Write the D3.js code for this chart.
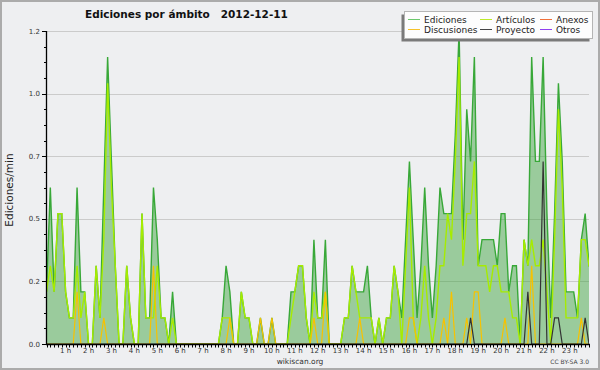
<!DOCTYPE html>
<html>
<head>
<meta charset="utf-8">
<script src="https://cdn.jsdelivr.net/npm/d3@7/dist/d3.min.js"></script>
<style>
body { margin: 0; background: #fff; }
svg { display: block; font-family: "DejaVu Sans", sans-serif; }
</style>
</head>
<body>
<svg id="chart" width="600" height="370"></svg>
<script>
// edits per minute, one value per 10 min bin (00:10 ... 24:00), 12 values per row = 2 hours
var ediciones = [
  0.2,0.6,0.2,0.5,0.5,0.2,0.1,0.1,0.6,0.2,0.2,0,
  0,0.3,0.1,0.6,1.1,0.7,0.3,0,0,0.3,0.1,0,
  0,0.5,0.1,0.1,0.6,0.4,0.1,0.1,0,0.2,0,0,
  0,0,0,0,0,0,0,0,0,0,0.1,0.3,
  0.2,0,0,0.2,0.1,0.1,0,0,0.1,0,0,0.1,
  0,0,0,0,0.2,0.2,0.3,0.3,0.1,0,0.4,0.1,
  0.1,0.4,0,0,0,0,0.1,0.1,0.3,0.2,0.2,0.2,
  0.3,0.1,0,0.1,0,0.1,0.1,0.3,0.2,0.1,0.4,0.7,
  0.4,0.1,0.3,0.6,0.3,0.1,0.3,0.6,0.5,0.5,0.5,0.8,
  1.2,0.4,0.9,0.7,1.1,0.3,0.4,0.4,0.4,0.4,0.3,0.5,
  0.5,0.2,0.3,0.3,0,0.4,0.3,1.1,0.7,0.7,1.1,0.5,
  0.1,0.5,1.0,0.7,0.2,0.2,0.2,0.1,0.4,0.5,0.3,0.3
];
var articulos = [
  0.2,0.3,0.2,0.5,0.5,0.2,0.1,0.1,0.3,0.1,0.2,0,
  0,0.3,0.1,0.4,1.0,0.6,0.3,0,0,0.3,0.1,0,
  0,0.5,0.1,0.1,0.1,0.3,0.1,0.1,0,0.1,0,0,
  0,0,0,0,0,0,0,0,0,0,0.1,0.1,
  0.1,0,0,0.2,0.1,0.1,0,0,0,0,0,0,
  0,0,0,0,0.1,0.2,0.3,0.3,0.1,0,0.2,0.1,
  0.1,0.2,0,0,0,0,0.1,0.1,0.3,0.2,0.1,0.1,
  0.1,0.1,0,0.1,0,0.1,0.1,0.3,0.2,0,0.3,0.6,
  0.1,0,0.1,0.3,0.1,0,0.1,0.3,0.3,0.5,0.4,0.7,
  1.1,0.3,0.5,0.5,0.7,0.3,0.3,0.3,0.2,0.3,0.3,0.2,
  0.2,0.2,0.1,0.1,0,0.4,0.3,0.4,0.3,0.3,0.4,0.2,
  0,0.4,0.9,0.6,0.1,0.1,0.1,0.1,0.4,0.4,0.3,0.3
];
var discusiones = [
  0,0,0,0,0,0,0,0,0.2,0,0,0,
  0,0,0,0.1,0,0,0,0,0,0,0,0,
  0,0,0,0,0.3,0,0,0,0,0,0,0,
  0,0,0,0,0,0,0,0,0,0,0,0,
  0.1,0,0,0,0,0,0,0,0.1,0,0,0.1,
  0,0,0,0,0,0,0,0,0,0,0.1,0,
  0,0.2,0,0,0,0,0,0,0,0,0.1,0,
  0,0,0,0,0,0,0,0,0,0,0,0.1,
  0.1,0,0,0,0,0,0,0,0.1,0,0.2,0,
  0,0,0.1,0,0.2,0.2,0,0,0,0,0,0,
  0.1,0,0,0,0,0,0,0.3,0,0,0,0,
  0,0,0,0,0,0,0,0,0.1,0,0,0
];
var proyecto = [
  0,0,0,0,0,0,0,0,0,0,0,0,
  0,0,0,0,0,0,0,0,0,0,0,0,
  0,0,0,0,0,0,0,0,0,0,0,0,
  0,0,0,0,0,0,0,0,0,0,0,0,
  0,0,0,0,0,0,0,0,0,0,0,0,
  0,0,0,0,0,0,0,0,0,0,0,0,
  0,0,0,0,0,0,0,0,0,0,0,0,
  0,0,0,0,0,0,0,0,0,0,0,0,
  0,0,0,0,0,0,0,0,0,0,0,0,
  0,0,0,0.1,0,0,0,0,0,0,0,0,
  0,0,0,0,0,0,0.2,0,0,0,0.7,0,
  0,0.1,0.1,0,0,0,0,0,0,0.1,0,0
];
// nothing in these two this day
var anexos = [];
var otros = [];

var hours = [1,2,3,4,5,6,7,8,9,10,11,12,13,14,15,16,17,18,19,20,21,22,23];
var yTicks = [0, 0.24, 0.48, 0.72, 0.96, 1.2];

var legendNames  = ["Ediciones", "Discusiones", "Artículos", "Proyecto", "Anexos", "Otros"];
var legendColors = ["#6cc86c", "#f6c22a", "#bdea2a", "#444444", "#f0703a", "#9040f0"];

(function() {

    var svg = d3.select("#chart");
    var W = 600, H = 370;
    var pLeft = 47, pRight = 589, pTop = 31, pBottom = 344;

    svg.append("rect")
        .attr("x", 1).attr("y", 1)
        .attr("width", W - 2).attr("height", H - 2)
        .attr("fill", "#eeeff1")
        .attr("stroke", "#ababab")
        .attr("stroke-width", 2);

    // bins: minute at the end of each 10 min slot
    var mins = ediciones.map(function(d, i) { return (i + 1) * 10; });

    var x = d3.scaleLinear().domain([10, 1440]).range([46.5, 592.8]);
    var y = d3.scaleLinear().domain([0, 1.2]).range([pBottom, pTop]);

    svg.append("defs").append("clipPath").attr("id", "plot")
        .append("rect")
        .attr("x", pLeft).attr("y", 20)
        .attr("width", pRight - pLeft).attr("height", pBottom - 20);

    // grid
    svg.append("g").selectAll("line")
        .data(yTicks.slice(1))
        .enter().append("line")
            .attr("x1", pLeft).attr("x2", pRight)
            .attr("y1", function(d) { return Math.round(y(d)) + 0.5; })
            .attr("y2", function(d) { return Math.round(y(d)) + 0.5; })
            .attr("stroke", "#cbcbcb")
            .attr("stroke-width", 1);

    var g = svg.append("g").attr("clip-path", "url(#plot)");

    var area = d3.area()
        .x(function(d, i) { return x(mins[i]); })
        .y0(y(0))
        .y1(function(d) { return y(d); });

    var line = d3.line()
        .x(function(d, i) { return x(mins[i]); })
        .y(function(d) { return y(d); });

    g.append("path")
        .attr("d", area(ediciones))
        .attr("fill", "#3ca43c")
        .attr("fill-opacity", 0.47);

    var series = [
        { data: ediciones,   color: "#38a838", w: 1.4 },
        { data: anexos,      color: "#f0602a", w: 1.2 },
        { data: otros,       color: "#8a2be2", w: 1.2 },
        { data: articulos,   color: "#a6ec00", w: 1.4 },
        { data: discusiones, color: "#f7c200", w: 1.2 },
        { data: proyecto,    color: "#333333", w: 1.2 }
    ];

    series.forEach(function(s) {
        if (!s.data.length) return;
        g.append("path")
            .attr("d", line(s.data))
            .attr("fill", "none")
            .attr("stroke", s.color)
            .attr("stroke-width", s.w);
    });

    // y axis
    var yMinor = d3.range(0, 1.2001, 0.06);
    svg.append("g").selectAll("line")
        .data(yMinor)
        .enter().append("line")
            .attr("x1", function(d, i) { return i % 4 == 0 ? pLeft - 5 : pLeft - 3; })
            .attr("x2", pLeft)
            .attr("y1", function(d) { return Math.round(y(d)) + 0.5; })
            .attr("y2", function(d) { return Math.round(y(d)) + 0.5; })
            .attr("stroke", "#000");

    svg.append("line")
        .attr("x1", pLeft - 0.5).attr("x2", pLeft - 0.5)
        .attr("y1", pTop).attr("y2", pBottom + 1)
        .attr("stroke", "#000").attr("stroke-width", 1.3);

    svg.append("g").selectAll("text")
        .data(yTicks)
        .enter().append("text")
            .attr("x", 40)
            .attr("y", function(d) { return y(d) + 2.5; })
            .attr("text-anchor", "end")
            .attr("font-size", "7px")
            .attr("fill", "#333")
            .text(d3.format(".1f"));

    // x axis
    var xMinor = mins.filter(function(m) { return x(m) <= pRight + 0.5; });
    svg.append("g").selectAll("line")
        .data(xMinor)
        .enter().append("line")
            .attr("x1", function(d) { return Math.round(x(d)) + 0.5; })
            .attr("x2", function(d) { return Math.round(x(d)) + 0.5; })
            .attr("y1", pBottom).attr("y2", pBottom + 3.5)
            .attr("stroke", "#000");

    svg.append("line")
        .attr("x1", pLeft - 1).attr("x2", pRight + 1)
        .attr("y1", pBottom + 0.5).attr("y2", pBottom + 0.5)
        .attr("stroke", "#000").attr("stroke-width", 1.5);

    svg.append("g").selectAll("text")
        .data(hours)
        .enter().append("text")
            .attr("x", function(d) { return x(d * 60); })
            .attr("y", 352.5)
            .attr("text-anchor", "middle")
            .attr("font-size", "7px")
            .attr("fill", "#333")
            .text(function(d) { return d + " h"; });

    // titles
    svg.append("text")
        .attr("x", 85).attr("y", 18)
        .attr("font-size", "10.5px")
        .attr("font-weight", "bold")
        .attr("fill", "#111")
        .attr("xml:space", "preserve")
        .text("Ediciones por ámbito   2012-12-11");

    svg.append("text")
        .attr("transform", "translate(13,190) rotate(-90)")
        .attr("text-anchor", "middle")
        .attr("font-size", "10.5px")
        .attr("fill", "#222")
        .text("Ediciones/min");

    svg.append("text")
        .attr("x", 300).attr("y", 363.5)
        .attr("text-anchor", "middle")
        .attr("font-size", "7.5px")
        .attr("fill", "#333")
        .text("wikiscan.org");

    svg.append("text")
        .attr("x", 589).attr("y", 364)
        .attr("text-anchor", "end")
        .attr("font-size", "6px")
        .attr("fill", "#444")
        .text("CC BY-SA  3.0");

    // legend
    var lg = svg.append("g");
    lg.append("rect")
        .attr("x", 401.5).attr("y", 14.5)
        .attr("width", 188).attr("height", 27)
        .attr("fill", "#7a7a7a");
    lg.append("rect")
        .attr("x", 404.5).attr("y", 11.5)
        .attr("width", 188).attr("height", 27)
        .attr("fill", "#fdfdfd")
        .attr("stroke", "#b5b5b5");

    var colX = [408, 480, 540];
    var rowY = [19.5, 29.5];
    var item = lg.selectAll(".item")
        .data(legendNames)
        .enter().append("g")
            .attr("class", "item")
            .attr("transform", function(d, i) {
                return "translate(" + colX[Math.floor(i / 2)] + "," + rowY[i % 2] + ")";
            });
    item.append("line")
        .attr("x1", 0).attr("x2", 12)
        .attr("y1", 0).attr("y2", 0)
        .attr("stroke", function(d, i) { return legendColors[i]; });
    item.append("text")
        .attr("x", 16).attr("y", 3)
        .attr("font-size", "9px")
        .attr("fill", "#222")
        .text(function(d) { return d; });

})();
</script>
</body>
</html>
